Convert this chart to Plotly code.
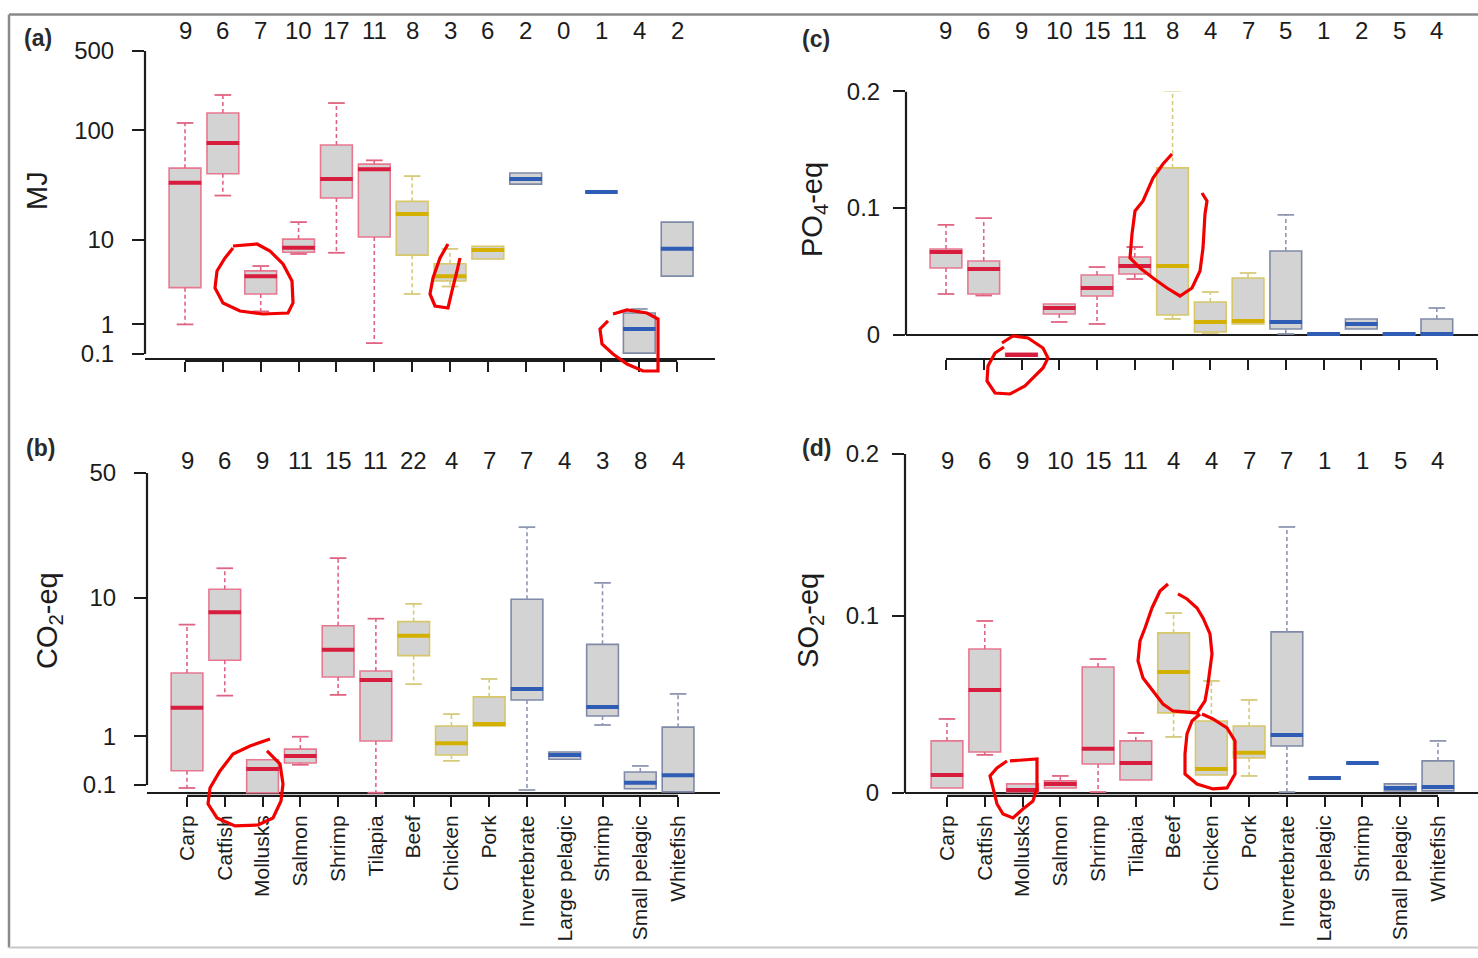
import numpy as np
import plotly.graph_objects as go

W = 1478
HP = 958      # figure height in page pixels
OFF = 13.0    # measured screen offset of page row 0
SC = 0.975    # measured vertical screen scale

categories = ["Carp", "Catfish", "Mollusks", "Salmon", "Shrimp", "Tilapia",
              "Beef", "Chicken", "Pork",
              "Invertebrate", "Large pelagic", "Shrimp", "Small pelagic", "Whitefish"]
group_of = ["farmed"] * 6 + ["livestock"] * 3 + ["capture"] * 5

# (a) energy use, MJ
a_counts = [9, 6, 7, 10, 17, 11, 8, 3, 6, 2, 0, 1, 4, 2]
a_lower  = [1.0, 26, 1.6, 7.3, 7.5, 0.37, 2.7, 3.3, 6.5, 33, None, 28, 0.12, 4.3]
a_q1     = [3.2, 41, 2.7, 7.6, 24.7, 10.7, 7.1, 3.8, 6.5, 33, None, 28, 0.12, 4.3]
a_median = [34, 77, 4.3, 8.4, 36.7, 45, 17.6, 4.3, 8.0, 36.7, None, 28, 0.82, 8.2]
a_q3     = [46, 142, 4.9, 10.2, 74, 50, 23, 5.8, 8.7, 41.6, None, 28, 1.52, 14.8]
a_upper  = [116, 205, 5.5, 14.8, 174, 54, 39, 8.2, 8.7, 41.6, None, 28, 1.73, 14.8]
a_ticks = [0.1, 1, 10, 100, 500]
a_tick_labels = ["0.1", "1", "10", "100", "500"]

# (b) CO2-eq
b_counts = [9, 6, 9, 11, 15, 11, 22, 4, 7, 7, 4, 3, 8, 4]
b_lower  = [0.06, 2.3, 0.0, 0.41, 2.33, 0.0, 2.8, 0.48, 1.27, 0.034, 0.51, 1.30, 0.05, 0.01]
b_q1     = [0.31, 4.1, 0.0, 0.44, 3.15, 0.89, 4.4, 0.59, 1.27, 2.13, 0.51, 1.57, 0.05, 0.01]
b_median = [1.84, 8.2, 0.34, 0.57, 4.8, 3.0, 5.9, 0.84, 1.33, 2.58, 0.59, 1.87, 0.13, 0.24]
b_q3     = [3.36, 11.2, 0.50, 0.71, 6.8, 3.47, 7.2, 1.27, 2.25, 9.8, 0.65, 5.2, 0.29, 1.24]
b_upper  = [6.9, 14.8, 0.50, 0.99, 16.9, 7.5, 9.2, 1.63, 3.05, 25.2, 0.65, 12.2, 0.39, 2.37]
b_ticks = [0.1, 1, 10, 50]
b_tick_labels = ["0.1", "1", "10", "50"]

# (c) PO4-eq
c_counts = [9, 6, 9, 10, 15, 11, 8, 4, 7, 5, 1, 2, 5, 4]
c_lower  = [0.0312, 0.030, -0.0156, 0.0098, 0.0083, 0.0428, 0.0121, 0.0015, 0.0083, 0.0008, 0.0008, 0.0045, 0.0008, 0.0008]
c_q1     = [0.0514, 0.0312, -0.0156, 0.0159, 0.0296, 0.0467, 0.0151, 0.0022, 0.0083, 0.0045, 0.0008, 0.0045, 0.0005, 0.0008]
c_median = [0.0641, 0.0506, -0.0149, 0.0204, 0.0358, 0.0530, 0.0530, 0.0098, 0.0105, 0.0098, 0.0008, 0.0083, 0.0008, 0.0008]
c_q3     = [0.0665, 0.0570, -0.0134, 0.0235, 0.0459, 0.0602, 0.1333, 0.0250, 0.0436, 0.0649, 0.0012, 0.0121, 0.0012, 0.0121]
c_upper  = [0.0859, 0.0915, -0.0134, 0.0235, 0.0522, 0.0681, 0.2004, 0.0327, 0.0475, 0.0941, 0.0012, 0.0121, 0.0012, 0.0204]
c_ticks = [0, 0.1, 0.2]
c_tick_labels = ["0", "0.1", "0.2"]

# (d) SO2-eq
d_counts = [9, 6, 9, 10, 15, 11, 4, 4, 7, 7, 1, 1, 5, 4]
d_lower  = [0.0027, 0.0207, 0.0005, 0.0027, 0.0005, 0.0070, 0.0306, 0.0097, 0.0092, 0.0005, 0.0081, 0.0163, 0.0011, 0.0011]
d_q1     = [0.0027, 0.0223, 0.0005, 0.0027, 0.0157, 0.0070, 0.0440, 0.0097, 0.0190, 0.0256, 0.0081, 0.0163, 0.0011, 0.0011]
d_median = [0.0097, 0.0570, 0.0016, 0.0049, 0.0240, 0.0163, 0.0672, 0.0130, 0.0218, 0.0317, 0.0081, 0.0163, 0.0027, 0.0032]
d_q3     = [0.0284, 0.0805, 0.0049, 0.0065, 0.0701, 0.0284, 0.0899, 0.0395, 0.0367, 0.0905, 0.0081, 0.0163, 0.0049, 0.0174]
d_upper  = [0.0406, 0.0969, 0.0049, 0.0092, 0.0747, 0.0328, 0.1016, 0.0621, 0.0513, 0.1538, 0.0081, 0.0163, 0.0049, 0.0284]
d_ticks = [0, 0.1, 0.2]
d_tick_labels = ["0", "0.1", "0.2"]

colors = {
    "farmed":    dict(box="#e87890", median="#d81c3e", whisker="#e06482"),
    "livestock": dict(box="#d8c868", median="#d4b000", whisker="#d6ca7a"),
    "capture":   dict(box="#7f8aa8", median="#2f5cb4", whisker="#8e96b2"),
}
FILL = "#d3d3d3"
INK = "#1c1c1c"
FONT = "Liberation Sans, Arial, sans-serif"


def tf(v):
    """log10(x + 1) transform used for every y axis."""
    return np.log10(np.asarray(v, dtype=float) + 1.0)


def py(y):
    """target screen row -> paper y"""
    page = (y - OFF) / SC
    page = min(max(page, 0.5), HP - 0.5)
    return 1 - page / HP


def pxx(x):
    return x / W


panels = [
    dict(n="", counts=a_counts, stats=(a_lower, a_q1, a_median, a_q3, a_upper),
         ticks=a_ticks, tick_labels=a_tick_labels, dom_x=(145, 715), dom_y=(360, 50),
         xr=(-1.057, 14.0), yr=(-0.020, float(tf(500))), show_cats=False,
         title="MJ", title_xy=(37, 190), count_y=30, letter="(a)", letter_xy=(22, 37), standoff=13),
    dict(n="2", counts=b_counts, stats=(b_lower, b_q1, b_median, b_q3, b_upper),
         ticks=b_ticks, tick_labels=b_tick_labels, dom_x=(147, 720), dom_y=(795, 472),
         xr=(-1.059, 14.11), yr=(-0.0173, float(tf(50))), show_cats=True,
         title="CO<sub>2</sub>-eq", title_xy=(49, 620), count_y=460, letter="(b)", letter_xy=(24, 447), standoff=13),
    dict(n="3", counts=c_counts, stats=(c_lower, c_q1, c_median, c_q3, c_upper),
         ticks=c_ticks, tick_labels=c_tick_labels, dom_x=(906, 1478), dom_y=(358, 90.5),
         xr=(-1.059, 14.09), yr=(-0.0078, float(tf(0.2))), show_cats=False,
         title="PO<sub>4</sub>-eq", title_xy=(814, 208), count_y=30, letter="(c)", letter_xy=(800, 38), standoff=8),
    dict(n="4", counts=d_counts, stats=(d_lower, d_q1, d_median, d_q3, d_upper),
         ticks=d_ticks, tick_labels=d_tick_labels, dom_x=(905, 1478), dom_y=(795, 453),
         xr=(-1.112, 14.06), yr=(-0.0007, float(tf(0.2))), show_cats=True,
         title="SO<sub>2</sub>-eq", title_xy=(810, 620), count_y=460, letter="(d)", letter_xy=(800, 447), standoff=8),
]

fig = go.Figure()
shapes = []
annotations = []
BOX_W = 0.84
CAP = 0.22
MED = 0.43

for p in panels:
    n = p["n"]
    xa, ya = "x" + n, "y" + n
    lower, q1, med, q3, upper = p["stats"]
    for g in ["farmed", "livestock", "capture"]:
        idx = [i for i in range(len(categories)) if group_of[i] == g and med[i] is not None]
        col = colors[g]
        fig.add_trace(go.Box(
            x=idx, q1=[float(tf(q1[i])) for i in idx], median=[float(tf(med[i])) for i in idx],
            q3=[float(tf(q3[i])) for i in idx],
            lowerfence=[float(tf(q1[i])) for i in idx], upperfence=[float(tf(q3[i])) for i in idx],
            width=BOX_W, fillcolor=FILL, line=dict(color=col["box"], width=1.6),
            boxpoints=False, hoverinfo="skip", showlegend=False, xaxis=xa, yaxis=ya))
        # dashed whiskers and solid caps
        wx, wy, cx, cy = [], [], [], []
        for i in idx:
            if upper[i] > q3[i]:
                wx += [i, i, None]; wy += [float(tf(q3[i])), float(tf(upper[i])), None]
                cx += [i - CAP, i + CAP, None]; cy += [float(tf(upper[i]))] * 2 + [None]
            if lower[i] < q1[i]:
                wx += [i, i, None]; wy += [float(tf(q1[i])), float(tf(lower[i])), None]
                cx += [i - CAP, i + CAP, None]; cy += [float(tf(lower[i]))] * 2 + [None]
        fig.add_trace(go.Scatter(x=wx, y=wy, mode="lines",
                                 line=dict(color=col["whisker"], width=1.6, dash="4px,3px"),
                                 hoverinfo="skip", showlegend=False, xaxis=xa, yaxis=ya))
        fig.add_trace(go.Scatter(x=cx, y=cy, mode="lines",
                                 line=dict(color=col["whisker"], width=1.8),
                                 hoverinfo="skip", showlegend=False, xaxis=xa, yaxis=ya))
        # thick medians
        mx, my = [], []
        for i in idx:
            mx += [i - MED, i + MED, None]; my += [float(tf(med[i]))] * 2 + [None]
        fig.add_trace(go.Scatter(x=mx, y=my, mode="lines",
                                 line=dict(color=col["median"], width=4),
                                 hoverinfo="skip", showlegend=False, xaxis=xa, yaxis=ya))

    fig.layout["xaxis" + n] = dict(
        domain=[pxx(p["dom_x"][0]), pxx(p["dom_x"][1])], anchor=ya, range=list(p["xr"]),
        tickmode="array", tickvals=list(range(len(categories))), ticktext=categories,
        showticklabels=p["show_cats"], tickangle=-90,
        ticks="outside", ticklen=10, tickwidth=2, tickcolor=INK,
        tickfont=dict(size=21, color=INK, family=FONT),
        showline=False, showgrid=False, zeroline=False, fixedrange=True)
    fig.layout["yaxis" + n] = dict(
        domain=[py(p["dom_y"][0]), py(p["dom_y"][1])], anchor=xa, range=list(p["yr"]),
        tickmode="array", tickvals=[float(v) for v in tf(p["ticks"])], ticktext=p["tick_labels"],
        ticks="outside", ticklen=12, tickwidth=2, tickcolor=INK, ticklabelstandoff=p["standoff"],
        tickfont=dict(size=24, color=INK, family=FONT),
        showline=False, showgrid=False,
        zeroline=True, zerolinecolor=INK, zerolinewidth=2, fixedrange=True)

    # R-style axis lines spanning first to last tick
    shapes.append(dict(type="line", xref=xa + " domain", yref=ya, x0=0, x1=0,
                       y0=float(tf(p["ticks"][0])), y1=float(tf(p["ticks"][-1])),
                       line=dict(color=INK, width=2.2)))
    shapes.append(dict(type="line", xref=xa, yref=ya + " domain", x0=0, x1=len(categories) - 1,
                       y0=0, y1=0, line=dict(color=INK, width=2.2)))

    # sample counts above each category
    for i, c in enumerate(p["counts"]):
        annotations.append(dict(x=i, xref=xa, y=py(p["count_y"]), yref="paper",
                                text=str(c), showarrow=False, xanchor="center", yanchor="middle",
                                font=dict(size=24, color=INK, family=FONT)))
    # axis title
    annotations.append(dict(x=pxx(p["title_xy"][0]), y=py(p["title_xy"][1]), xref="paper", yref="paper",
                            text=p["title"], textangle=-90, showarrow=False,
                            xanchor="center", yanchor="middle",
                            font=dict(size=29, color=INK, family=FONT)))
    # panel letter
    annotations.append(dict(x=pxx(p["letter_xy"][0]), y=py(p["letter_xy"][1]), xref="paper", yref="paper",
                            text="<b>" + p["letter"] + "</b>", showarrow=False,
                            xanchor="left", yanchor="middle",
                            font=dict(size=23, color="#2a2a2a", family=FONT)))

# page frame
top_f, bot_f = py(4), py(956)
shapes.append(dict(type="line", xref="paper", yref="paper", x0=pxx(9), x1=1.0, y0=top_f, y1=top_f,
                   line=dict(color="#8a8a8a", width=2.5)))
shapes.append(dict(type="line", xref="paper", yref="paper", x0=pxx(9), x1=pxx(9), y0=top_f, y1=bot_f,
                   line=dict(color="#8a8a8a", width=2.5)))
shapes.append(dict(type="line", xref="paper", yref="paper", x0=pxx(9), x1=1.0, y0=bot_f, y1=bot_f,
                   line=dict(color="#c8c8c8", width=2)))

# hand-drawn red marks (pixel outlines)
red_marks = [
    [(233, 245), (257, 243), (270, 250), (283, 263), (292, 280), (293, 302), (288, 312), (263, 313),
     (240, 310), (223, 302), (215, 287), (217, 270), (225, 257), (233, 247)],
    [(448, 243), (440, 257), (433, 277), (430, 293), (435, 305), (448, 307), (452, 290), (457, 270), (460, 257)],
    [(613, 313), (627, 309), (647, 312), (658, 318), (658, 370), (643, 370), (627, 363), (613, 353),
     (602, 343), (600, 328), (608, 320)],
    [(1002, 342), (1013, 335), (1028, 337), (1043, 347), (1048, 357), (1043, 367), (1033, 377), (1025, 385),
     (1010, 393), (995, 392), (987, 380), (988, 365), (995, 352), (1004, 346)],
    [(1172, 153), (1163, 163), (1153, 177), (1143, 200), (1135, 210), (1132, 233), (1130, 257), (1140, 267),
     (1153, 277), (1167, 287), (1180, 295), (1192, 287), (1200, 270), (1203, 247), (1205, 213), (1207, 200),
     (1202, 192)],
    [(270, 738), (250, 745), (233, 753), (220, 770), (210, 787), (208, 803), (217, 817), (235, 825),
     (258, 824), (273, 817), (281, 800), (283, 783), (280, 763), (267, 750)],
    [(1010, 760), (1037, 758), (1037, 787), (1033, 800), (1023, 808), (1013, 817), (1003, 813), (997, 803),
     (993, 787), (990, 775), (997, 767), (1007, 760)],
    [(1168, 583), (1160, 590), (1152, 607), (1145, 627), (1140, 640), (1138, 660), (1143, 677), (1153, 690),
     (1163, 703), (1173, 710), (1197, 712), (1205, 700), (1208, 683), (1212, 653), (1210, 633), (1203, 617),
     (1197, 607), (1187, 598), (1178, 593)],
    [(1200, 713), (1192, 720), (1187, 733), (1185, 753), (1185, 773), (1197, 783), (1213, 788), (1227, 787),
     (1235, 773), (1235, 740), (1227, 727), (1213, 718), (1202, 713)],
]
for pts in red_marks:
    path = "M " + " L ".join(f"{pxx(x):.5f},{py(y):.5f}" for x, y in pts)
    shapes.append(dict(type="path", xref="paper", yref="paper", path=path,
                       line=dict(color="#f20000", width=3.2)))

fig.update_layout(
    width=W, height=HP, margin=dict(l=0, r=0, t=0, b=0),
    paper_bgcolor="white", plot_bgcolor="white",
    boxmode="overlay", showlegend=False,
    font=dict(family=FONT, color=INK),
    shapes=shapes, annotations=annotations,
)

fig.write_html(
    "out.html", config={"displayModeBar": False},
    post_script=(
        "document.documentElement.style.margin='0';"
        "document.body.style.margin='0';"
        "document.body.style.overflow='hidden';"
        "var gd=document.getElementsByClassName('plotly-graph-div')[0];"
        "gd.style.position='absolute';gd.style.top='0px';gd.style.left='0px';"
    ),
)
